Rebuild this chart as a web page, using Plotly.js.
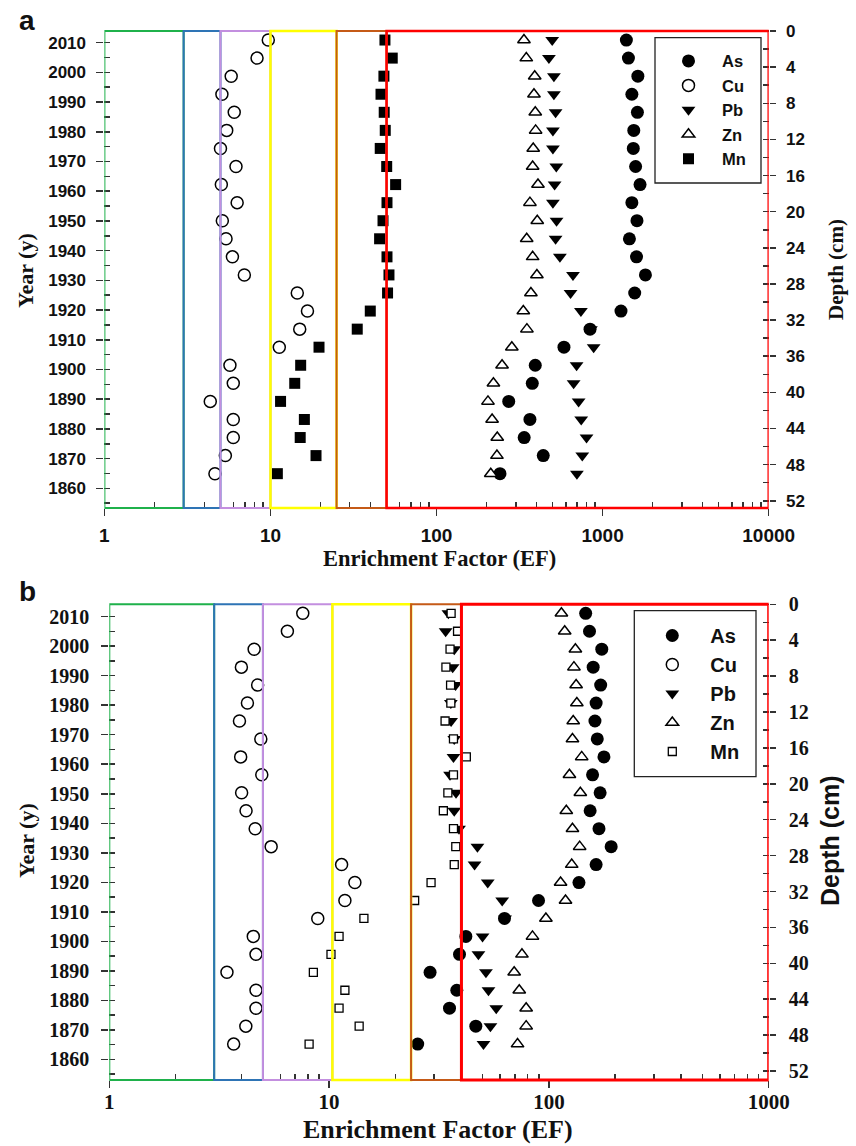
<!DOCTYPE html>
<html><head><meta charset="utf-8">
<script src="https://cdn.plot.ly/plotly-3.0.1.min.js"></script>
<style>html,body{margin:0;padding:0;background:#fff}</style>
</head><body><div id="chart" style="width:856px;height:1146px"></div>
<script>
// ---------- data ----------
const elements = ['As', 'Cu', 'Pb', 'Zn', 'Mn'];
const depthCm = [1, 3, 5, 7, 9, 11, 13, 15, 17, 19, 21, 23, 25, 27, 29, 31, 33, 35, 37, 39, 41, 43, 45, 47, 49];
const yearTicks = [1860, 1870, 1880, 1890, 1900, 1910, 1920, 1930, 1940, 1950, 1960, 1970, 1980, 1990, 2000, 2010];
const depthTicks = [0, 4, 8, 12, 16, 20, 24, 28, 32, 36, 40, 44, 48, 52];

// panel a
const asA = [1390, 1430, 1630, 1500, 1620, 1540, 1530, 1580, 1680, 1500, 1610, 1450, 1600, 1810, 1560, 1290, 840, 585, 393, 377, 272, 365, 337, 439, 241];
const cuA = [9.7, 8.3, 5.8, 5.1, 6.05, 5.45, 5.0, 6.2, 5.06, 6.3, 5.13, 5.4, 5.9, 6.96, 14.5, 16.7, 15.0, 11.3, 5.7, 5.97, 4.34, 5.97, 5.97, 5.35, 4.63];
const pbA = [497, 475, 509, 509, 521, 502, 502, 526, 514, 502, 528, 521, 553, 663, 641, 740, 850, 883, 697, 669, 717, 743, 800, 754, 700];
const znA = [336, 347, 390, 386, 393, 395, 382, 379, 408, 365, 404, 349, 379, 402, 370, 333, 350, 284, 248, 220, 204, 216, 232, 231, 212];
const mnA = [48.9, 54.1, 48.2, 46.3, 48.4, 49.1, 45.8, 50.1, 56.7, 50.3, 47.6, 45.4, 50.3, 51.7, 50.7, 39.9, 33.3, 19.6, 15.2, 14.0, 11.5, 16.0, 15.1, 18.8, 11.0];
const bandEdgesA = [1, 3, 5, 10, 25, 50, 10000];
const xTicksA = [1, 10, 100, 1000, 10000];

// panel b
const asB = [147, 153, 174, 159, 172, 164, 162, 166, 178, 158, 171, 154, 169, 192, 164, 137, 89.7, 62.8, 41.9, 39.2, 28.8, 38.1, 35.3, 46.5, 25.3];
const cuB = [7.59, 6.46, 4.56, 3.99, 4.73, 4.25, 3.91, 4.89, 3.96, 4.94, 4.0, 4.19, 4.61, 5.45, 11.4, 13.1, 11.8, 8.88, 4.52, 4.65, 3.43, 4.65, 4.65, 4.18, 3.68];
const pbB = [34.9, 33.9, 37.1, 36.5, 37.6, 35.8, 35.9, 37.1, 36.8, 35.5, 37.8, 37.1, 39.0, 47.3, 45.9, 52.7, 61.3, 63.2, 49.9, 47.8, 51.7, 53.1, 57.6, 54.2, 50.4];
const znB = [114, 118, 132, 130, 133, 134, 129, 128, 141, 124, 139, 120, 128, 138, 127, 113, 119, 96.9, 84.2, 75.4, 69.5, 73.3, 78.8, 78.8, 72.0];
const mnB = [35.9, 38.4, 35.5, 34.0, 35.7, 35.8, 33.7, 36.8, 42.1, 36.8, 34.7, 33.1, 36.8, 37.7, 37.1, 29.1, 24.5, 14.4, 11.1, 10.2, 8.48, 11.8, 11.1, 13.7, 8.11];
const bandEdgesB = [1, 3, 5, 10.35, 23.6, 40, 1000];
const xTicksB = [1, 10, 100, 1000];

const bandColors = ['#1fb14b', '#2e74b5', '#c38fdf', '#ffff00', '#c55a17', '#ff0000'];

// ---------- layout helpers ----------
const W = 856, H = 1146;
const px = v => v / W, py = v => 1 - v / H;

function minorLog(maxDec) {
  const out = [];
  for (let d = 0; d < maxDec; d++) for (let k = 2; k <= 9; k++) out.push(k * Math.pow(10, d));
  return out;
}

const sans = 'Liberation Sans, Arial, sans-serif';
const serif = 'Liberation Serif, Times New Roman, serif';
const tickCol = '#333';

function mk(sym, fill, size, lw) {
  return {symbol: sym, color: fill, size: size, line: {color: '#000', width: lw}};
}
const stylesA = {
  As: mk('circle', '#000', 13, 0),
  Cu: mk('circle', '#fff', 12, 1.5),
  Pb: mk('triangle-down', '#000', 12, 0),
  Zn: mk('triangle-up', '#fff', 11, 1.5),
  Mn: mk('square', '#000', 11, 0)
};
const stylesB = {
  As: mk('circle', '#000', 13, 0),
  Cu: mk('circle', '#fff', 12, 1.5),
  Pb: mk('triangle-down', '#000', 12, 0),
  Zn: mk('triangle-up', '#fff', 11, 1.5),
  Mn: mk('square', '#fff', 8, 1.3)
};
const seriesA = {As: asA, Cu: cuA, Pb: pbA, Zn: znA, Mn: mnA};
const seriesB = {As: asB, Cu: cuB, Pb: pbB, Zn: znB, Mn: mnB};

const traces = [];
elements.forEach(el => traces.push({
  type: 'scatter', mode: 'markers', name: el, x: seriesA[el], y: depthCm,
  xaxis: 'x', yaxis: 'y', marker: stylesA[el], legend: 'legend', cliponaxis: false
}));
elements.forEach(el => traces.push({
  type: 'scatter', mode: 'markers', name: el, x: seriesB[el], y: depthCm,
  xaxis: 'x2', yaxis: 'y3', marker: stylesB[el], legend: 'legend2', cliponaxis: false
}));
// invisible helpers so that the tick-only axes are registered
function helper(xa, ya, vals) {
  return {type: 'scatter', mode: 'markers', x: vals.map(() => 1), y: vals, xaxis: xa, yaxis: ya,
    marker: {opacity: 0}, showlegend: false, hoverinfo: 'skip'};
}
traces.push(helper('x', 'y2', yearTicks), helper('x2', 'y4', yearTicks),
  helper('x', 'y5', yearTicks), helper('x', 'y6', depthTicks),
  helper('x2', 'y7', yearTicks), helper('x2', 'y8', depthTicks));

function bands(edges, xref, yref, widths) {
  const s = [];
  for (let i = 0; i < edges.length - 1; i++) {
    s.push({type: 'rect', xref: xref, yref: yref, x0: edges[i], x1: edges[i + 1], y0: 0, y1: 1,
      line: {color: bandColors[i], width: widths[i]}, fillcolor: 'rgba(0,0,0,0)', layer: 'above'});
  }
  return s;
}
function paperBox(x0, y0, x1, y1) {
  return {type: 'rect', xref: 'paper', yref: 'paper', x0: px(x0), x1: px(x1), y0: py(y0), y1: py(y1),
    line: {color: '#222', width: 1.3}, fillcolor: 'rgba(0,0,0,0)', layer: 'above'};
}

const domXA = [px(104.4), px(768.7)], domYA = [py(508), py(31)];
const domXB = [px(109.3), px(768.7)], domYB = [py(1080), py(604.3)];
const yearRangeA = [1853.4, 2013.9], depthRangeA = [52.8, 0];
const yearRangeB = [1853.0, 2014.2], depthRangeB = [53.0, 0];

function tf(fam, size) { return {family: fam, size: size, weight: 'bold', color: '#111'}; }
function note(text, x, y, angle, font) {
  return {text: text, x: px(x), y: py(y), xref: 'paper', yref: 'paper', xanchor: 'center', yanchor: 'middle',
    textangle: angle, showarrow: false, font: font};
}

const common = {showgrid: false, zeroline: false, showline: false, tickcolor: tickCol, tickwidth: 1.5};
function innerTicks(base, anchor, side, range, vals) {
  return Object.assign({}, common, {overlaying: base, anchor: anchor, side: side, range: range,
    tickmode: 'array', tickvals: vals, ticks: 'inside', ticklen: 6, showticklabels: false});
}

const layout = {
  width: W, height: H, margin: {l: 0, r: 0, t: 0, b: 0},
  paper_bgcolor: '#fff', plot_bgcolor: 'rgba(0,0,0,0)', showlegend: true,
  // panel a
  xaxis: Object.assign({}, common, {domain: domXA, anchor: 'y', type: 'log', range: [0, 4],
    tickmode: 'array', tickvals: xTicksA, ticktext: xTicksA.map(String), ticks: 'outside', ticklen: 7,
    ticklabelstandoff: 3, tickfont: tf(sans, 19),
    minor: {tickmode: 'array', tickvals: minorLog(4), ticks: 'inside', ticklen: 6, tickcolor: tickCol, tickwidth: 1.5}}),
  yaxis: Object.assign({}, common, {domain: domYA, anchor: 'x', side: 'right', range: depthRangeA,
    tickmode: 'array', tickvals: depthTicks, ticks: 'outside', ticklen: 6, ticklabelstandoff: 7, tickfont: tf(sans, 17),
    minor: {dtick: 2, tick0: 0, ticks: 'inside', ticklen: 6, tickcolor: tickCol, tickwidth: 1.5}}),
  yaxis2: Object.assign({}, common, {overlaying: 'y', anchor: 'x', side: 'left', range: yearRangeA,
    tickmode: 'array', tickvals: yearTicks, ticks: 'outside', ticklen: 7, ticklabelstandoff: 7, tickfont: tf(sans, 17),
    minor: {dtick: 5, tick0: 1855, ticks: 'inside', ticklen: 6, tickcolor: tickCol, tickwidth: 1.5}}),
  yaxis5: innerTicks('y', 'x', 'left', yearRangeA, yearTicks),
  yaxis6: innerTicks('y', 'x', 'right', depthRangeA, depthTicks),
  // panel b
  xaxis2: Object.assign({}, common, {domain: domXB, anchor: 'y3', type: 'log', range: [0, 3],
    tickmode: 'array', tickvals: xTicksB, ticktext: xTicksB.map(String), ticks: 'outside', ticklen: 7,
    ticklabelstandoff: -4, tickfont: tf(serif, 21),
    minor: {tickmode: 'array', tickvals: minorLog(3), ticks: 'inside', ticklen: 6, tickcolor: tickCol, tickwidth: 1.5}}),
  yaxis3: Object.assign({}, common, {domain: domYB, anchor: 'x2', side: 'right', range: depthRangeB,
    tickmode: 'array', tickvals: depthTicks, ticks: 'outside', ticklen: 6, ticklabelstandoff: 9, tickfont: tf(serif, 20),
    minor: {dtick: 2, tick0: 0, ticks: 'inside', ticklen: 6, tickcolor: tickCol, tickwidth: 1.5}}),
  yaxis4: Object.assign({}, common, {overlaying: 'y3', anchor: 'x2', side: 'left', range: yearRangeB,
    tickmode: 'array', tickvals: yearTicks, ticks: 'outside', ticklen: 7, ticklabelstandoff: 8, tickfont: tf(serif, 20),
    minor: {dtick: 5, tick0: 1855, ticks: 'inside', ticklen: 6, tickcolor: tickCol, tickwidth: 1.5}}),
  yaxis7: innerTicks('y3', 'x2', 'left', yearRangeB, yearTicks),
  yaxis8: innerTicks('y3', 'x2', 'right', depthRangeB, depthTicks),
  shapes: [].concat(
    bands(bandEdgesA, 'x', 'y domain', [2, 2, 2, 2.5, 2, 2.5]),
    bands(bandEdgesB, 'x2', 'y3 domain', [2, 2, 2, 2.5, 2, 3]),
    [paperBox(655, 37.7, 761, 183), paperBox(634.3, 610.7, 756, 776.7)]
  ),
  legend: {x: px(655), y: py(43.7), xanchor: 'left', yanchor: 'top', bgcolor: 'rgba(0,0,0,0)',
    borderwidth: 0, font: tf(sans, 16.5), itemwidth: 57, tracegroupgap: 0},
  legend2: {x: px(634.3), y: py(616), xanchor: 'left', yanchor: 'top', bgcolor: 'rgba(0,0,0,0)',
    borderwidth: 0, font: tf(sans, 20), itemwidth: 66, tracegroupgap: 0},
  annotations: [
    {text: 'a', x: px(17), y: py(20), xref: 'paper', yref: 'paper', xanchor: 'left', yanchor: 'middle', showarrow: false, font: tf(sans, 28)},
    {text: 'b', x: px(17), y: py(591), xref: 'paper', yref: 'paper', xanchor: 'left', yanchor: 'middle', showarrow: false, font: tf(sans, 28)},
    note('Year (y)', 26, 271, -90, tf(serif, 22)),
    note('Enrichment Factor (EF)', 440, 558, 0, tf(serif, 22.5)),
    note('Depth (cm)', 836, 270, -90, tf(serif, 21)),
    note('Year (y)', 26, 841, -90, tf(serif, 22)),
    note('Enrichment Factor (EF)', 438, 1129, 0, tf(serif, 26)),
    note('Depth (cm)', 830, 841, -90, tf(sans, 25))
  ]
};

Plotly.newPlot('chart', traces, layout, {displayModeBar: false, staticPlot: true});
</script></body></html>
